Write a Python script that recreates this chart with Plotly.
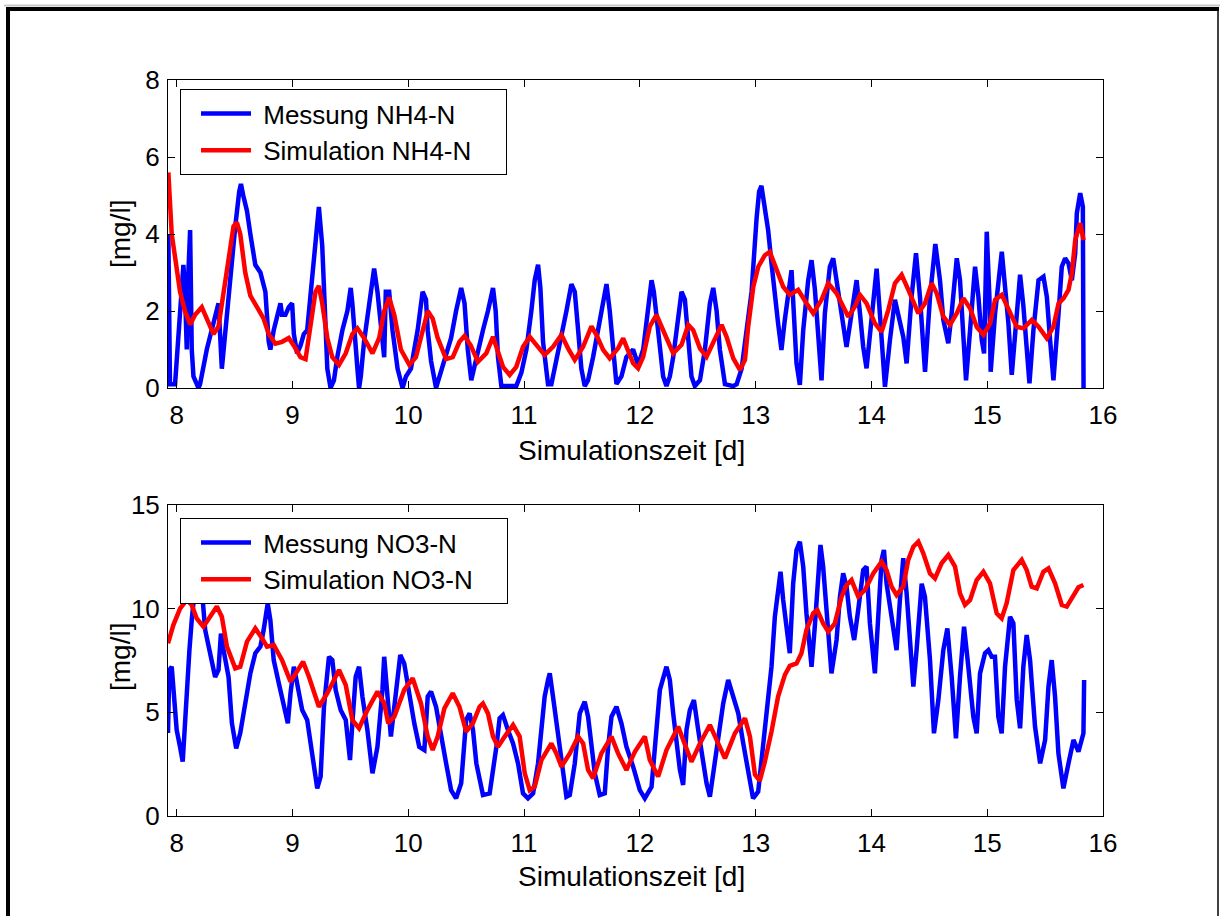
import plotly.graph_objects as go

# ---------------- data ----------------
x_tick_vals = [8, 9, 10, 11, 12, 13, 14, 15, 16]
y1_tick_vals = [0, 2, 4, 6, 8]
y2_tick_vals = [0, 5, 10, 15]

nh4_mess_t = [7.928, 7.942, 7.986, 8.030, 8.058, 8.072, 8.087, 8.101, 8.116, 8.130, 8.145, 8.188, 8.202, 8.260,
              8.347, 8.361, 8.390, 8.405, 8.434, 8.470, 8.506, 8.540, 8.555, 8.575, 8.607, 8.636, 8.679, 8.723,
              8.766, 8.795, 8.809, 8.838, 8.882, 8.896, 8.910, 8.939, 8.968, 8.997, 9.012, 9.040, 9.069, 9.098,
              9.127, 9.156, 9.199, 9.228, 9.257, 9.272, 9.301, 9.329, 9.358, 9.387, 9.431, 9.474, 9.503, 9.517,
              9.532, 9.561, 9.575, 9.590, 9.618, 9.647, 9.676, 9.705, 9.734, 9.763, 9.792, 9.806, 9.835, 9.864,
              9.908, 9.951, 9.980, 10.023, 10.081, 10.124, 10.153, 10.168, 10.197, 10.240, 10.269, 10.312, 10.370,
              10.413, 10.457, 10.486, 10.514, 10.544, 10.588, 10.645, 10.688, 10.732, 10.755, 10.775, 10.804,
              10.933, 10.977, 11.020, 11.063, 11.092, 11.121, 11.141, 11.164, 11.207, 11.236, 11.265, 11.308,
              11.366, 11.409, 11.438, 11.467, 11.495, 11.524, 11.553, 11.596, 11.640, 11.683, 11.712, 11.740,
              11.769, 11.798, 11.841, 11.884, 11.942, 11.985, 12.029, 12.072, 12.101, 12.121, 12.144, 12.173,
              12.201, 12.230, 12.259, 12.288, 12.317, 12.360, 12.389, 12.418, 12.446, 12.475, 12.519, 12.562,
              12.605, 12.634, 12.663, 12.691, 12.735, 12.807, 12.836, 12.879, 12.922, 12.965, 13.008, 13.030,
              13.050, 13.079, 13.108, 13.137, 13.166, 13.194, 13.223, 13.252, 13.310, 13.324, 13.353, 13.382,
              13.411, 13.454, 13.483, 13.512, 13.540, 13.569, 13.598, 13.641, 13.670, 13.699, 13.742, 13.785,
              13.829, 13.872, 13.901, 13.929, 13.958, 14.001, 14.045, 14.073, 14.117, 14.160, 14.203, 14.232,
              14.275, 14.304, 14.347, 14.385, 14.419, 14.463, 14.506, 14.552, 14.592, 14.621, 14.664, 14.693,
              14.737, 14.765, 14.794, 14.817, 14.852, 14.895, 14.924, 14.953, 14.973, 14.996, 15.019, 15.030,
              15.068, 15.126, 15.154, 15.183, 15.212, 15.241, 15.284, 15.313, 15.342, 15.365, 15.399, 15.443,
              15.486, 15.515, 15.543, 15.572, 15.616, 15.644, 15.673, 15.702, 15.731, 15.760, 15.774, 15.803,
              15.826, 15.832]
nh4_mess_v = [4.0, 0.1, 0.1, 1.8, 3.2, 2.5, 1.0, 3.0, 4.1, 1.0, 0.3, 0.0, 0.1, 1.0,
              2.0, 2.2, 0.5, 1.0, 2.0, 3.0, 4.2, 5.1, 5.3, 5.0, 4.6, 4.0, 3.2, 3.0,
              2.5, 1.2, 1.0, 1.5, 2.0, 2.2, 1.9, 1.9, 2.1, 2.2, 1.4, 0.9, 1.1, 1.4,
              1.5, 2.5, 4.0, 4.7, 3.7, 2.5, 0.5, 0.0, 0.2, 0.8, 1.5, 2.0, 2.6, 2.2,
              1.5, 0.5, 0.0, 0.3, 1.2, 1.8, 2.6, 3.1, 2.5, 1.5, 0.8, 2.5, 2.5, 1.5,
              0.5, 0.0, 0.3, 0.5, 1.5, 2.5, 2.3, 1.5, 0.7, 0.0, 0.3, 0.8, 1.3,
              2.0, 2.6, 2.2, 1.0, 0.2, 0.8, 1.5, 2.0, 2.6, 2.0, 0.8, 0.05,
              0.05, 0.4, 1.0, 2.0, 2.8, 3.2, 2.6, 1.2, 0.1, 0.1, 0.5, 1.2,
              2.0, 2.7, 2.5, 1.5, 0.5, 0.05, 0.2, 0.8, 1.5, 2.2, 2.7, 2.0,
              0.9, 0.1, 0.3, 0.8, 1.0, 0.6, 1.0, 2.0, 2.8, 2.5, 1.8, 1.0,
              0.3, 0.05, 0.3, 0.8, 1.5, 2.5, 2.3, 1.2, 0.3, 0.05, 0.2, 1.0,
              2.2, 2.6, 2.0, 1.0, 0.1, 0.05, 0.1, 0.5, 1.5, 2.5, 4.4, 5.1,
              5.25, 4.62, 4.1, 3.24, 2.37, 1.68, 0.99, 1.77, 3.06, 2.4, 0.64, 0.08,
              1.5, 2.8, 3.32, 2.55, 1.5, 0.2, 1.94, 3.15, 3.37, 2.8, 1.94, 1.07,
              1.94, 2.8, 1.94, 1.07, 0.51, 1.77, 3.1, 1.94, 0.03, 1.25, 2.29, 1.9,
              1.33, 0.64, 2.37, 3.5, 2.37, 0.42, 2.37, 3.74, 2.8, 1.77, 1.16, 1.94,
              3.37, 2.8, 1.5, 0.2, 1.5, 3.15, 2.37, 1.25, 0.9, 4.06, 2.37, 0.42,
              1.94, 3.54, 2.63, 1.68, 0.34, 1.5, 2.94, 2.11, 1.07, 0.12, 1.5, 2.8,
              2.89, 2.37, 1.25, 0.2, 1.94, 3.15, 3.37, 3.24, 2.8, 3.5, 4.54, 5.06,
              4.71, 0.0]

nh4_sim_t = [7.928, 7.942, 7.957, 7.986, 8.029, 8.072, 8.116, 8.159, 8.217, 8.260, 8.318, 8.361, 8.405, 8.448,
             8.491, 8.520, 8.549, 8.592, 8.636, 8.694, 8.751, 8.795, 8.853, 8.910, 8.968, 9.012, 9.069, 9.113,
             9.156, 9.199, 9.228, 9.257, 9.301, 9.344, 9.402, 9.460, 9.517, 9.561, 9.618, 9.691, 9.749, 9.792,
             9.835, 9.879, 9.936, 10.009, 10.066, 10.124, 10.168, 10.211, 10.254, 10.327, 10.384, 10.442, 10.486,
             10.540, 10.602, 10.674, 10.732, 10.775, 10.818, 10.876, 10.933, 10.991, 11.049, 11.106, 11.178,
             11.250, 11.323, 11.380, 11.438, 11.510, 11.582, 11.625, 11.683, 11.740, 11.812, 11.856, 11.899,
             11.942, 11.985, 12.029, 12.086, 12.144, 12.201, 12.288, 12.360, 12.418, 12.461, 12.519, 12.576,
             12.634, 12.706, 12.749, 12.807, 12.864, 12.908, 12.936, 12.980, 13.023, 13.080, 13.122, 13.180,
             13.238, 13.295, 13.367, 13.439, 13.497, 13.569, 13.627, 13.699, 13.800, 13.857, 13.901, 13.958,
             14.030, 14.088, 14.146, 14.203, 14.261, 14.319, 14.405, 14.463, 14.520, 14.564, 14.621, 14.679,
             14.737, 14.794, 14.852, 14.909, 14.967, 15.025, 15.068, 15.126, 15.183, 15.255, 15.313, 15.385,
             15.443, 15.515, 15.572, 15.616, 15.659, 15.702, 15.731, 15.760, 15.803, 15.832]
nh4_sim_v = [5.6, 4.8, 4.0, 3.4, 2.5, 2.0, 1.65, 1.9, 2.1, 1.8, 1.4, 1.6, 2.5, 3.4,
             4.2, 4.3, 4.0, 3.0, 2.4, 2.1, 1.8, 1.4, 1.15, 1.2, 1.3, 1.1, 0.8, 0.75,
             1.7, 2.5, 2.65, 2.2, 1.3, 0.8, 0.6, 0.9, 1.4, 1.55, 1.3, 0.9, 1.3, 2.0,
             2.35, 1.9, 1.0, 0.6, 0.8, 1.5, 2.0, 1.8, 1.3, 0.75, 0.8, 1.2, 1.35,
             1.1, 0.68, 0.9, 1.33, 0.94, 0.55, 0.34, 0.55, 1.07, 1.33, 1.12, 0.86,
             1.07, 1.38, 1.03, 0.73, 1.07, 1.6, 1.38, 0.99, 0.77, 1.03, 1.29, 0.99,
             0.64, 0.51, 0.81, 1.6, 1.9, 1.5, 0.9, 1.12, 1.64, 1.5, 1.03, 0.81,
             1.2, 1.64, 1.33, 0.77, 0.47, 0.73, 1.6, 2.63, 3.15, 3.45, 3.54, 3.06,
             2.63, 2.42, 2.55, 2.2, 1.94, 2.29, 2.72, 2.46, 1.85, 2.11, 2.42, 2.2,
             1.68, 1.46, 2.03, 2.72, 2.94, 2.55, 1.94, 2.2, 2.72, 2.46, 1.85, 1.64,
             1.94, 2.33, 2.07, 1.59, 1.38, 1.68, 2.29, 2.42, 2.07, 1.59, 1.55, 1.77,
             1.59, 1.29, 1.59, 2.2, 2.33, 2.55, 2.98, 3.84, 4.28, 3.84]

no3_mess_t = [7.925, 7.936, 7.957, 7.977, 8.000, 8.029, 8.052, 8.072, 8.092, 8.110, 8.130, 8.145, 8.202, 8.225,
              8.246, 8.289, 8.332, 8.361, 8.382, 8.405, 8.448, 8.477, 8.514, 8.549, 8.592, 8.636, 8.679, 8.723,
              8.751, 8.786, 8.809, 8.838, 8.882, 8.925, 8.960, 8.983, 9.012, 9.040, 9.084, 9.127, 9.171, 9.214,
              9.243, 9.272, 9.315, 9.344, 9.373, 9.416, 9.460, 9.497, 9.517, 9.546, 9.575, 9.604, 9.647, 9.691,
              9.734, 9.777, 9.792, 9.821, 9.850, 9.893, 9.931, 9.965, 10.009, 10.052, 10.095, 10.139, 10.168,
              10.197, 10.240, 10.283, 10.327, 10.370, 10.413, 10.457, 10.500, 10.530, 10.559, 10.588, 10.616,
              10.645, 10.703, 10.732, 10.761, 10.789, 10.818, 10.861, 10.905, 10.948, 10.991, 11.034, 11.078,
              11.121, 11.150, 11.178, 11.207, 11.222, 11.250, 11.279, 11.308, 11.337, 11.366, 11.395, 11.438,
              11.481, 11.524, 11.553, 11.582, 11.611, 11.654, 11.697, 11.726, 11.755, 11.798, 11.841, 11.884,
              11.942, 12.000, 12.043, 12.101, 12.129, 12.173, 12.230, 12.259, 12.288, 12.317, 12.346, 12.374,
              12.403, 12.432, 12.467, 12.504, 12.547, 12.576, 12.605, 12.648, 12.720, 12.763, 12.807, 12.850,
              12.893, 12.936, 12.978, 13.022, 13.050, 13.079, 13.108, 13.137, 13.166, 13.194, 13.215, 13.238,
              13.266, 13.295, 13.324, 13.353, 13.382, 13.411, 13.439, 13.468, 13.483, 13.511, 13.540, 13.560,
              13.583, 13.612, 13.641, 13.655, 13.699, 13.728, 13.756, 13.785, 13.814, 13.851, 13.886, 13.929,
              13.958, 13.987, 14.030, 14.059, 14.088, 14.108, 14.131, 14.174, 14.217, 14.246, 14.275, 14.304,
              14.333, 14.362, 14.390, 14.434, 14.462, 14.506, 14.540, 14.578, 14.621, 14.656, 14.693, 14.730,
              14.765, 14.800, 14.837, 14.880, 14.909, 14.938, 14.981, 15.010, 15.039, 15.067, 15.096, 15.125,
              15.154, 15.197, 15.226, 15.255, 15.284, 15.312, 15.341, 15.370, 15.413, 15.457, 15.500, 15.529,
              15.557, 15.586, 15.615, 15.658, 15.702, 15.745, 15.788, 15.831, 15.837]
no3_mess_v = [4.0, 7.04, 7.2, 5.4, 4.15, 3.34, 2.62, 4.47, 6.7, 8.0, 9.45, 10.3, 10.6, 10.4,
              8.97, 7.85, 6.7, 7.04, 8.8, 8.0, 6.7, 4.47, 3.26, 4.0, 5.43, 6.88, 7.85, 8.17,
              8.97, 10.25, 9.45, 7.52, 6.4, 5.27, 4.47, 5.92, 7.2, 6.4, 5.11, 4.63, 2.86, 1.33,
              1.9, 5.27, 7.68, 7.52, 6.08, 5.11, 4.63, 2.7, 4.47, 6.72, 7.2, 5.76, 4.15, 2.06,
              3.34, 6.08, 7.68, 5.76, 3.83, 5.92, 7.77, 7.36, 5.76, 4.47, 3.34, 3.18, 5.76,
              6.0, 5.27, 3.83, 2.54, 1.25, 0.85, 1.58, 4.63, 4.95, 4.15, 2.54, 1.74,
              1.01, 1.09, 2.06, 3.34, 4.71, 4.87, 4.15, 3.5, 2.54, 1.09, 0.85, 1.09,
              2.54, 4.47, 5.76, 6.56, 6.88, 5.76, 4.63, 3.34, 2.22, 0.93, 1.01, 2.54,
              4.95, 5.51, 4.79, 3.34, 2.06, 1.01, 1.09, 3.34, 4.79, 5.27, 4.47, 3.34,
              2.38, 1.25, 0.85, 1.41, 3.34, 6.08, 7.2, 6.56, 4.95, 3.34, 2.22, 1.5,
              4.15, 5.11, 5.59, 4.15, 2.54, 1.58, 0.93, 2.54, 5.43, 6.56, 5.76, 4.95,
              3.5, 2.06, 0.85, 1.17, 2.54, 4.31, 5.6, 7.2, 9.61, 10.9, 11.78, 10.42,
              9.13, 7.85, 11.2, 12.83, 13.23, 12.03, 9.77, 8.0, 7.2, 9.13, 12.03, 13.07,
              12.03, 9.77, 7.52, 6.88, 8.49, 10.58, 11.7, 11.06, 9.61, 8.49, 9.94, 11.86,
              12.03, 9.29, 6.88, 9.61, 12.35, 12.83, 11.2, 9.61, 8.0, 10.42, 12.43, 10.74,
              8.81, 6.24, 8.0, 11.2, 10.58, 7.52, 3.99, 5.6, 8.0, 9.05, 6.72, 3.75,
              6.72, 9.13, 7.2, 4.79, 3.99, 6.88, 7.85, 8.0, 7.68, 7.68, 4.79, 3.99,
              7.2, 9.61, 9.29, 5.6, 4.23, 7.2, 8.73, 7.52, 4.31, 2.54, 3.67, 6.24,
              7.52, 5.76, 3.02, 1.33, 2.54, 3.67, 3.1, 3.99, 6.56]

no3_sim_t = [7.925, 7.971, 8.029, 8.087, 8.130, 8.173, 8.231, 8.289, 8.347, 8.390, 8.434, 8.506, 8.549, 8.607,
             8.679, 8.737, 8.780, 8.838, 8.910, 8.983, 9.040, 9.092, 9.142, 9.228, 9.301, 9.402, 9.460, 9.517,
             9.575, 9.647, 9.734, 9.792, 9.827, 9.879, 9.965, 10.038, 10.110, 10.168, 10.211, 10.254, 10.312,
             10.384, 10.442, 10.500, 10.558, 10.616, 10.645, 10.688, 10.732, 10.775, 10.833, 10.905, 10.962,
             11.006, 11.049, 11.092, 11.150, 11.236, 11.279, 11.323, 11.395, 11.467, 11.510, 11.553, 11.596,
             11.668, 11.755, 11.812, 11.884, 11.957, 12.043, 12.086, 12.158, 12.230, 12.331, 12.389, 12.446,
             12.519, 12.605, 12.663, 12.735, 12.821, 12.908, 12.951, 12.994, 13.036, 13.079, 13.137, 13.194,
             13.252, 13.295, 13.353, 13.396, 13.439, 13.497, 13.532, 13.583, 13.627, 13.684, 13.742, 13.785,
             13.828, 13.886, 13.944, 14.016, 14.088, 14.131, 14.174, 14.217, 14.275, 14.318, 14.362, 14.405,
             14.448, 14.506, 14.549, 14.606, 14.664, 14.722, 14.765, 14.808, 14.852, 14.909, 14.967, 15.024,
             15.082, 15.125, 15.168, 15.226, 15.298, 15.341, 15.384, 15.428, 15.485, 15.529, 15.586, 15.644,
             15.687, 15.745, 15.788, 15.831]
no3_sim_v = [8.33, 9.21, 10.0, 10.42, 10.18, 9.53, 9.13, 9.61, 10.1, 9.61, 8.17, 7.12, 7.2, 8.41,
             9.05, 8.57, 8.17, 8.25, 7.52, 6.48, 6.96, 7.44, 6.72, 5.27, 5.92, 7.04, 6.32, 4.63,
             4.23, 5.11, 6.0, 5.43, 4.47, 4.79, 6.08, 6.64, 5.43, 3.83, 3.18, 3.83, 5.19,
             5.92, 5.27, 4.07, 4.47, 5.27, 5.43, 4.95, 3.83, 3.34, 3.83, 4.39, 3.83,
             2.06, 1.25, 1.41, 2.7, 3.5, 3.02, 2.38, 3.02, 3.83, 3.5, 2.22, 1.82,
             3.02, 3.83, 3.02, 2.22, 3.1, 3.83, 2.7, 1.9, 3.18, 4.31, 3.5, 2.62,
             3.5, 4.39, 3.67, 2.78, 3.99, 4.71, 3.83, 2.0, 1.7, 2.6, 4.07, 5.76,
             6.8, 7.24, 7.36, 7.85, 8.97, 9.77, 9.94, 9.29, 8.89, 9.29, 10.58, 11.14,
             11.38, 10.58, 10.9, 11.7, 12.27, 11.86, 11.06, 10.66, 11.06, 12.35, 12.99, 13.23,
             12.67, 11.7, 11.46, 12.19, 12.59, 12.03, 10.74, 10.18, 10.42, 11.38, 11.78, 11.22,
             9.77, 9.53, 10.26, 11.86, 12.35, 11.86, 11.06, 10.98, 11.78, 11.94, 11.22, 10.18,
             10.1, 10.58, 11.03, 11.14]

series_names = ["Messung NH4-N", "Simulation NH4-N", "Messung NO3-N", "Simulation NO3-N"]
x_title = "Simulationszeit [d]"
y_title = "[mg/l]"

# ---------------- figure ----------------
W, H = 1220, 916
FONT = "Liberation Sans, Arial, Helvetica, sans-serif"
BLUE = "#0000ff"
RED = "#ff0000"
LW = 4.5


def px(x):
    return x / W


def py(y):
    return 1 - y / H


NB = "\u00a0"


def leg_name(s):
    return NB + s + NB * 4


fig = go.Figure()
fig.add_trace(go.Scatter(x=nh4_mess_t, y=nh4_mess_v, mode="lines", name=leg_name(series_names[0]),
                         line=dict(color=BLUE, width=LW), xaxis="x", yaxis="y", legend="legend"))
fig.add_trace(go.Scatter(x=nh4_sim_t, y=nh4_sim_v, mode="lines", name=leg_name(series_names[1]),
                         line=dict(color=RED, width=LW), xaxis="x", yaxis="y", legend="legend"))
fig.add_trace(go.Scatter(x=no3_mess_t, y=no3_mess_v, mode="lines", name=leg_name(series_names[2]),
                         line=dict(color=BLUE, width=LW), xaxis="x2", yaxis="y2", legend="legend2"))
fig.add_trace(go.Scatter(x=no3_sim_t, y=no3_sim_v, mode="lines", name=leg_name(series_names[3]),
                         line=dict(color=RED, width=LW), xaxis="x2", yaxis="y2", legend="legend2"))

axis_common = dict(showline=True, linecolor="black", linewidth=1, mirror="allticks", ticks="inside",
                   ticklen=7, tickwidth=1, tickcolor="black", showgrid=False, zeroline=False,
                   tickfont=dict(family=FONT, size=26, color="black"), automargin=False)

dom_x = [px(168), px(1103)]
legend_common = dict(xanchor="left", yanchor="top", bgcolor="white", bordercolor="black", borderwidth=1,
                     font=dict(family=FONT, size=26, color="black"), itemwidth=50, tracegroupgap=0,
                     indentation=15)
fig.update_layout(
    width=W, height=H, autosize=False,
    margin=dict(l=0, r=0, t=0, b=0, pad=0),
    paper_bgcolor="white", plot_bgcolor="white",
    font=dict(family=FONT, color="black"),
    xaxis=dict(axis_common, domain=dom_x, range=[7.925, 16], tickvals=x_tick_vals, anchor="y",
               ticklabelstandoff=4),
    yaxis=dict(axis_common, domain=[py(388), py(80)], range=[0, 8], tickvals=y1_tick_vals, anchor="x",
               ticklabelstandoff=2),
    xaxis2=dict(axis_common, domain=dom_x, range=[7.925, 16], tickvals=x_tick_vals, anchor="y2",
                ticklabelstandoff=4),
    yaxis2=dict(axis_common, domain=[py(816), py(505)], range=[0, 15], tickvals=y2_tick_vals, anchor="x2",
                ticklabelstandoff=2),
    legend=dict(legend_common, x=px(180), y=py(89)),
    legend2=dict(legend_common, x=px(180), y=py(518)),
    showlegend=True,
)

title_font = dict(family=FONT, size=28, color="black")
fig.add_annotation(text=x_title, x=px(631), y=py(451), xref="paper", yref="paper",
                   showarrow=False, font=title_font, xanchor="center", yanchor="middle")
fig.add_annotation(text=x_title, x=px(631), y=py(876), xref="paper", yref="paper",
                   showarrow=False, font=title_font, xanchor="center", yanchor="middle")
fig.add_annotation(text=y_title, x=px(120), y=py(234), xref="paper", yref="paper", textangle=-90,
                   showarrow=False, font=title_font, xanchor="center", yanchor="middle")
fig.add_annotation(text=y_title, x=px(120), y=py(657), xref="paper", yref="paper", textangle=-90,
                   showarrow=False, font=title_font, xanchor="center", yanchor="middle")

# figure frame (light grey outer edge, thick black top/left, thin black right)
fig.add_shape(type="line", xref="paper", yref="paper", x0=px(4), x1=px(1220), y0=py(5.5), y1=py(5.5),
              line=dict(color="#c8c8c8", width=2))
fig.add_shape(type="line", xref="paper", yref="paper", x0=px(6), x1=px(1219), y0=py(9), y1=py(9),
              line=dict(color="black", width=4))
fig.add_shape(type="line", xref="paper", yref="paper", x0=px(8), x1=px(8), y0=py(7), y1=py(930),
              line=dict(color="black", width=4))
fig.add_shape(type="line", xref="paper", yref="paper", x0=px(1218), x1=px(1218), y0=py(9), y1=py(930),
              line=dict(color="black", width=1.5))

# the page body has an 8 px default margin; remove it so the figure sits at the window origin
fig.write_html("out.html", config={"displayModeBar": False},
               post_script="document.body.style.margin='0px';document.body.style.overflow='hidden';")
